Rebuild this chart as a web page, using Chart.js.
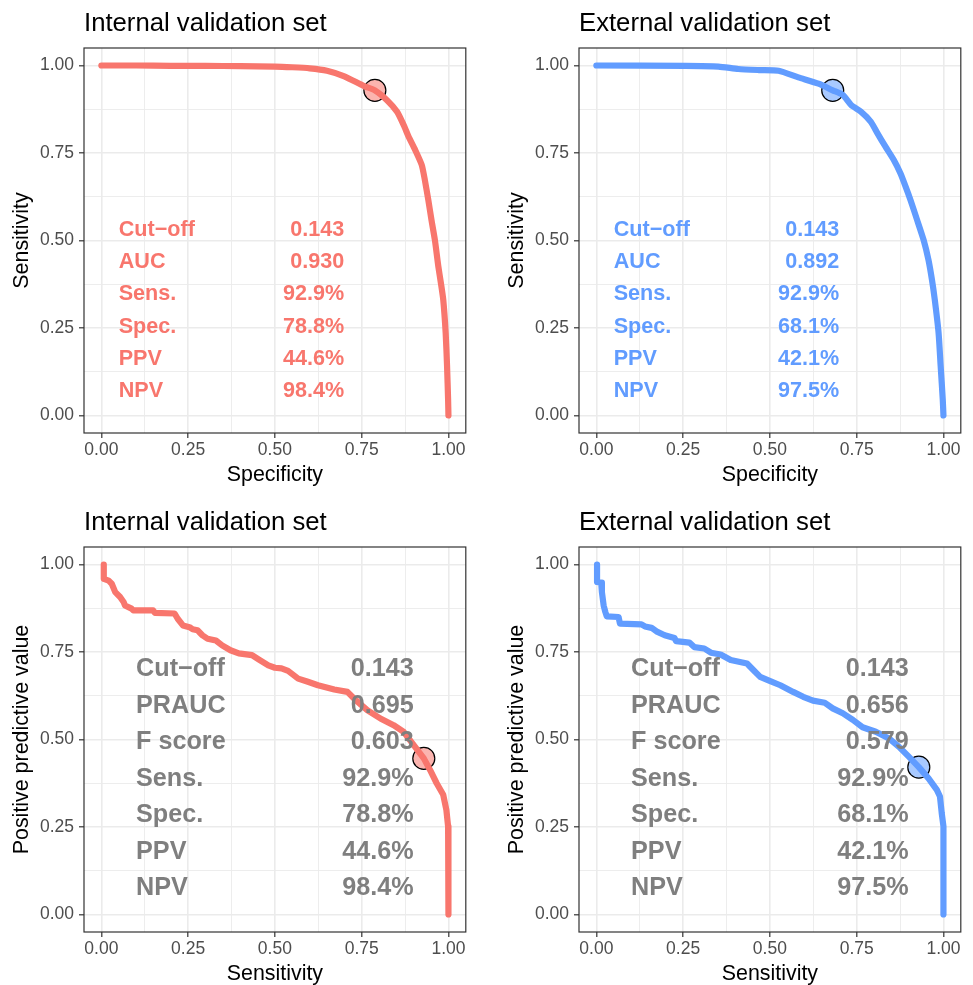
<!DOCTYPE html>
<html>
<head>
<meta charset="utf-8">
<title>ROC and PR curves</title>
<script src="https://cdn.jsdelivr.net/npm/chart.js@4.4.1/dist/chart.umd.min.js"></script>
<style>
  html, body { margin: 0; padding: 0; background: #fff; }
  #wrap { position: relative; width: 973px; height: 985px; overflow: hidden; }
  #wrap canvas { position: absolute; }
</style>
</head>
<body>
<div id="wrap">
  <canvas id="rocInt" width="478" height="486" style="left:0;top:0"></canvas>
  <canvas id="rocExt" width="478" height="486" style="left:495px;top:0"></canvas>
  <canvas id="prInt" width="478" height="486" style="left:0;top:499px"></canvas>
  <canvas id="prExt" width="478" height="486" style="left:495px;top:499px"></canvas>
</div>
<script>
// ROC curve, internal set (specificity vs sensitivity)
var intRocSpec = [0, 0.10, 0.20, 0.30, 0.40, 0.50, 0.55, 0.60, 0.65, 0.70, 0.757, 0.788, 0.823, 0.852, 0.871, 0.885, 0.904, 0.923, 0.932, 0.942, 0.951, 0.961, 0.971, 0.978, 0.985, 0.992, 0.996, 0.999, 1.0];
var intRocSens = [1.0, 1.0, 0.999, 0.999, 0.998, 0.997, 0.995, 0.992, 0.985, 0.969, 0.941, 0.929, 0.901, 0.868, 0.830, 0.797, 0.759, 0.716, 0.673, 0.616, 0.559, 0.501, 0.425, 0.380, 0.331, 0.236, 0.141, 0.046, 0.0];

// ROC curve, external set
var extRocSpec = [0, 0.257, 0.352, 0.409, 0.468, 0.525, 0.582, 0.640, 0.681, 0.710, 0.734, 0.762, 0.791, 0.810, 0.833, 0.857, 0.876, 0.891, 0.905, 0.924, 0.943, 0.957, 0.967, 0.975, 0.986, 0.992, 0.998, 1.0];
var extRocSens = [1.0, 0.999, 0.997, 0.990, 0.987, 0.985, 0.966, 0.948, 0.929, 0.916, 0.887, 0.868, 0.839, 0.806, 0.768, 0.730, 0.692, 0.654, 0.616, 0.559, 0.501, 0.444, 0.387, 0.331, 0.236, 0.141, 0.046, 0.0];

// precision-recall curve, internal set (sensitivity vs PPV)
var intPrSens = [0.007, 0.007, 0.021, 0.030, 0.040, 0.054, 0.064, 0.068, 0.087, 0.092, 0.149, 0.154, 0.211, 0.220, 0.235, 0.254, 0.263, 0.277, 0.291, 0.306, 0.330, 0.348, 0.372, 0.396, 0.434, 0.453, 0.481, 0.500, 0.519, 0.538, 0.567, 0.595, 0.624, 0.671, 0.709, 0.728, 0.766, 0.804, 0.842, 0.871, 0.900, 0.929, 0.947, 0.966, 0.985, 0.994, 0.999, 1.0];
var intPrPpv = [1.0, 0.959, 0.954, 0.945, 0.921, 0.907, 0.893, 0.883, 0.874, 0.869, 0.869, 0.862, 0.860, 0.845, 0.826, 0.821, 0.815, 0.812, 0.798, 0.788, 0.783, 0.769, 0.755, 0.746, 0.741, 0.729, 0.712, 0.705, 0.703, 0.696, 0.674, 0.665, 0.655, 0.643, 0.636, 0.617, 0.584, 0.560, 0.541, 0.522, 0.484, 0.446, 0.413, 0.375, 0.342, 0.299, 0.252, 0.0];

// precision-recall curve, external set
var extPrSens = [0.002, 0.002, 0.014, 0.016, 0.021, 0.026, 0.030, 0.064, 0.068, 0.130, 0.140, 0.159, 0.173, 0.197, 0.225, 0.230, 0.268, 0.282, 0.311, 0.330, 0.358, 0.387, 0.434, 0.453, 0.472, 0.501, 0.530, 0.567, 0.596, 0.624, 0.658, 0.681, 0.710, 0.739, 0.767, 0.805, 0.843, 0.872, 0.900, 0.929, 0.957, 0.981, 0.990, 0.995, 1.0, 1.0];
var extPrPpv = [1.0, 0.950, 0.948, 0.921, 0.883, 0.864, 0.852, 0.850, 0.831, 0.829, 0.823, 0.819, 0.809, 0.798, 0.790, 0.781, 0.777, 0.764, 0.760, 0.748, 0.743, 0.727, 0.717, 0.698, 0.679, 0.667, 0.655, 0.636, 0.622, 0.611, 0.605, 0.589, 0.575, 0.556, 0.535, 0.522, 0.503, 0.479, 0.451, 0.421, 0.389, 0.356, 0.337, 0.290, 0.252, 0.0];

// metrics at the chosen cut-off: cut-off, AUC, PRAUC, F score, sens, spec, PPV, NPV
var intMetrics = [0.143, 0.930, 0.695, 0.603, 0.929, 0.788, 0.446, 0.984];
var extMetrics = [0.143, 0.892, 0.656, 0.579, 0.929, 0.681, 0.421, 0.975];

var rocLabels = ['Cut\u2212off', 'AUC', 'Sens.', 'Spec.', 'PPV', 'NPV'];
var prLabels = ['Cut\u2212off', 'PRAUC', 'F score', 'Sens.', 'Spec.', 'PPV', 'NPV'];

var axisTicks = [0, 0.125, 0.25, 0.375, 0.5, 0.625, 0.75, 0.875, 1];

var FONT = '"Liberation Sans", Arial, Helvetica, sans-serif';
var RED = '#F8766D', BLUE = '#619CFF', GREY = '#7F7F7F';

Chart.defaults.font.family = FONT;

function isMajor(v) {
	return Math.abs(v * 4 - Math.round(v * 4)) < 1e-9;
}

function fmt3(v) { return v.toFixed(3); }
function pct(v) { return (v * 100).toFixed(1) + '%'; }

function toPoints(xs, ys) {
	return xs.map(function (x, i) { return { x: x, y: ys[i] }; });
}

function axis(title, isX) {
	return {
		type: 'linear',
		min: -0.05,
		max: 1.05,
		afterBuildTicks: function (s) {
			s.ticks = axisTicks.map(function (v) { return { value: v }; });
		},
		afterFit: function (s) {
			if (isX) {
				s.height = 53;
			} else {
				s.width = 84;
			}
		},
		ticks: {
			autoSkip: false,
			maxRotation: 0,
			color: '#4D4D4D',
			padding: isX ? 2 : 5,
			font: { size: 17.5, lineHeight: 1.2 },
			callback: function (v) { return isMajor(v) ? v.toFixed(2) : ''; }
		},
		grid: {
			color: '#EBEBEB',
			lineWidth: function (c) { return c.tick && isMajor(c.tick.value) ? 1.6 : 0.9; },
			tickLength: 5,
			tickWidth: 1.2,
			tickColor: function (c) { return c.tick && isMajor(c.tick.value) ? '#333333' : 'rgba(0,0,0,0)'; }
		},
		border: { display: false },
		title: {
			display: true,
			text: title,
			color: '#000000',
			font: { size: 21.4, lineHeight: 1 },
			padding: isX ? { top: 0, bottom: 0 } : { top: 11, bottom: 0 }
		}
	};
}

// panel title, frame and the metric table drawn onto the plot
function panelPlugin(cfg) {
	return {
		id: 'panelDecor',
		afterDatasetsDraw: function (chart) {
			var ctx = chart.ctx,
				xs = chart.scales.x,
				ys = chart.scales.y,
				n = cfg.labels.length;

			ctx.save();
			ctx.font = 'bold ' + cfg.textSize + 'px ' + FONT;
			ctx.fillStyle = cfg.textColor;
			ctx.textBaseline = 'middle';
			for (var i = 0; i < n; i++) {
				var y = ys.getPixelForValue(cfg.rowTop - i * (cfg.rowTop - cfg.rowBottom) / (n - 1));
				ctx.textAlign = 'left';
				ctx.fillText(cfg.labels[i], xs.getPixelForValue(cfg.colLeft), y);
				ctx.textAlign = 'right';
				ctx.fillText(cfg.values[i], xs.getPixelForValue(cfg.colRight), y);
			}
			ctx.restore();
		},
		afterDraw: function (chart) {
			var ctx = chart.ctx,
				a = chart.chartArea;

			ctx.save();
			ctx.strokeStyle = '#333333';
			ctx.lineWidth = 1.2;
			ctx.strokeRect(a.left, a.top, a.right - a.left, a.bottom - a.top);

			ctx.fillStyle = '#000000';
			ctx.font = '25.7px ' + FONT;
			ctx.textAlign = 'left';
			ctx.textBaseline = 'alphabetic';
			ctx.fillText(cfg.title, a.left, 31);
			ctx.restore();
		}
	};
}

function drawPanel(id, cfg) {
	new Chart(document.getElementById(id), {
		type: 'scatter',
		data: {
			datasets: [{
				data: toPoints(cfg.xs, cfg.ys),
				showLine: true,
				borderColor: cfg.color,
				borderWidth: 6.2,
				borderCapStyle: cfg.cap,
				borderJoinStyle: 'round',
				pointRadius: 0,
				pointHoverRadius: 0,
				tension: cfg.tension
			}, {
				data: [cfg.mark],
				showLine: false,
				pointRadius: 11,
				pointBackgroundColor: cfg.markFill,
				pointBorderColor: '#000000',
				pointBorderWidth: 1.2
			}]
		},
		options: {
			responsive: false,
			animation: false,
			devicePixelRatio: 1,
			layout: { padding: { left: 0, top: 48, right: 8.5, bottom: 0 } },
			plugins: {
				legend: { display: false },
				tooltip: { enabled: false }
			},
			scales: {
				x: axis(cfg.xTitle, true),
				y: axis(cfg.yTitle, false)
			}
		},
		plugins: [panelPlugin(cfg)]
	});
}

function rocValues(m) {
	return [fmt3(m[0]), fmt3(m[1]), pct(m[4]), pct(m[5]), pct(m[6]), pct(m[7])];
}

function prValues(m) {
	return [fmt3(m[0]), fmt3(m[2]), fmt3(m[3]), pct(m[4]), pct(m[5]), pct(m[6]), pct(m[7])];
}

drawPanel('rocInt', {
	title: 'Internal validation set', xTitle: 'Specificity', yTitle: 'Sensitivity',
	xs: intRocSpec, ys: intRocSens, color: RED, cap: 'round', tension: 0.2,
	mark: { x: intMetrics[5], y: intMetrics[4] }, markFill: 'rgba(248,118,109,0.55)',
	labels: rocLabels, values: rocValues(intMetrics),
	textColor: RED, textSize: 21.6, colLeft: 0.05, colRight: 0.70, rowTop: 0.53, rowBottom: 0.07
});

drawPanel('rocExt', {
	title: 'External validation set', xTitle: 'Specificity', yTitle: 'Sensitivity',
	xs: extRocSpec, ys: extRocSens, color: BLUE, cap: 'round', tension: 0.2,
	mark: { x: extMetrics[5], y: extMetrics[4] }, markFill: 'rgba(97,156,255,0.55)',
	labels: rocLabels, values: rocValues(extMetrics),
	textColor: BLUE, textSize: 21.6, colLeft: 0.05, colRight: 0.70, rowTop: 0.53, rowBottom: 0.07
});

drawPanel('prInt', {
	title: 'Internal validation set', xTitle: 'Sensitivity', yTitle: 'Positive predictive value',
	xs: intPrSens, ys: intPrPpv, color: RED, cap: 'butt', tension: 0,
	mark: { x: intMetrics[4], y: intMetrics[6] }, markFill: 'rgba(248,118,109,0.55)',
	labels: prLabels, values: prValues(intMetrics),
	textColor: GREY, textSize: 25.2, colLeft: 0.10, colRight: 0.90, rowTop: 0.70, rowBottom: 0.075
});

drawPanel('prExt', {
	title: 'External validation set', xTitle: 'Sensitivity', yTitle: 'Positive predictive value',
	xs: extPrSens, ys: extPrPpv, color: BLUE, cap: 'butt', tension: 0,
	mark: { x: extMetrics[4], y: extMetrics[6] }, markFill: 'rgba(97,156,255,0.55)',
	labels: prLabels, values: prValues(extMetrics),
	textColor: GREY, textSize: 25.2, colLeft: 0.10, colRight: 0.90, rowTop: 0.70, rowBottom: 0.075
});
</script>
</body>
</html>
